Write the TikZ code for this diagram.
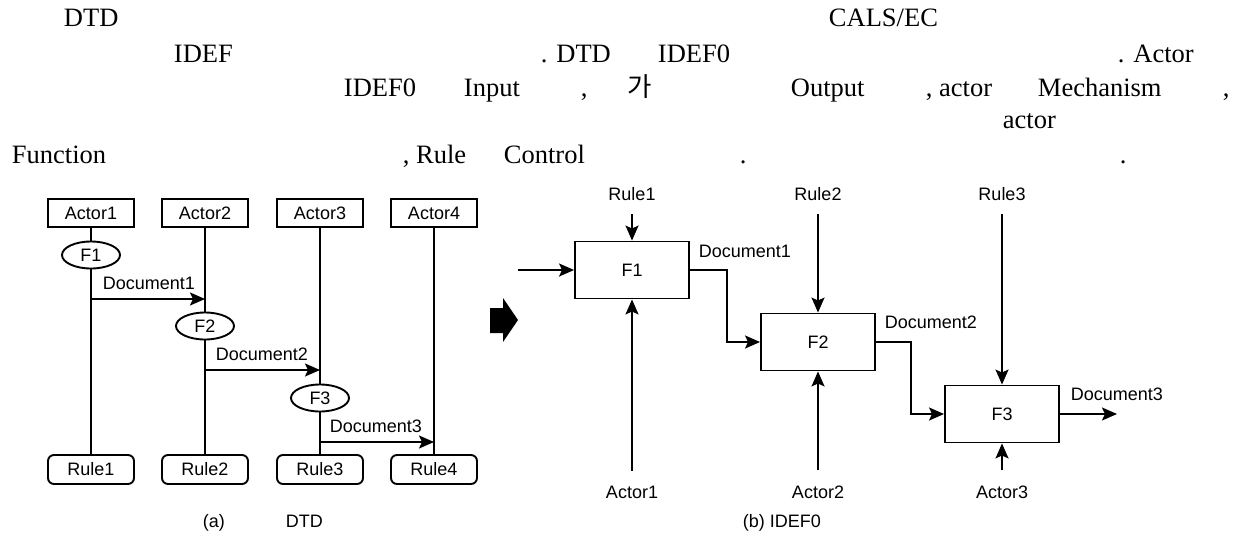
\documentclass[tikz,border=0pt]{standalone}
\usepackage{fontspec}
\setmainfont{Liberation Serif}
\newfontfamily\diagfont{Liberation Sans}
\newfontfamily\krfont{Noto Sans CJK KR}
\usetikzlibrary{shapes.geometric,arrows.meta}

\tikzset{
  texto/.style={font=\fontsize{26.5}{30}\selectfont, inner sep=0pt, anchor=base west},
  etiq/.style={font=\diagfont\fontsize{18}{21}\selectfont, inner sep=0pt},
  actor/.style={etiq, draw, line width=1.9pt, minimum width=86pt, minimum height=28pt},
  regla/.style={actor, rounded corners=6pt, minimum height=29pt},
  funcion/.style={etiq, draw, ellipse, fill=white, line width=1.9pt, minimum width=58pt, minimum height=27pt},
  caja/.style={etiq, draw, line width=1.9pt, minimum width=114pt, minimum height=57pt},
  flujo/.style={line width=1.9pt, -{Stealth[length=15pt,width=13pt,inset=3pt]}},
}

\begin{document}
\begin{tikzpicture}[x=1pt, y=-1pt, line width=1.9pt]
\useasboundingbox (0,0) rectangle (1234,538);
% Texto del parrafo
\node[texto] (t1) at (63,27) {DTD};
\node[texto] (t2) at (828,27) {CALS/EC};
\node[texto] (t3) at (173,62) {IDEF};
\node[texto] (t4) at (540,62) {. DTD};
\node[texto] (t5) at (657,62) {IDEF0};
\node[texto] (t6) at (1117,62) {. Actor};
\node[texto] (t7) at (343,96) {IDEF0};
\node[texto] (t8) at (463,96) {Input};
\node[texto] (t9) at (580,96) {,};
\node[texto] (t10) at (627,96) {\krfont 가};
\node[texto] (t11) at (790,96) {Output};
\node[texto] (t12) at (925,96) {, actor};
\node[texto] (t13) at (1037,96) {Mechanism};
\node[texto] (t14) at (1222,96) {,};
\node[texto] (t15) at (1002,128) {actor};
\node[texto] (t16) at (11,163) {Function};
\node[texto] (t17) at (402,163) {, Rule};
\node[texto] (t18) at (503,163) {Control};
\node[texto] (t19) at (739,163) {.};
\node[texto] (t20) at (1119,163) {.};

% (a) Diagrama DTD
\foreach \i/\x in {1/91,2/205,3/320,4/434}{
  \node[actor] (a\i) at (\x,213) {Actor\i};
  \node[regla] (r\i) at (\x,469.5) {Rule\i};
  \draw (a\i) -- (r\i);
}
\node[funcion] (f1) at (a1 |- 0,255) {F1};
\node[funcion] (f2) at (a2 |- 0,326) {F2};
\node[funcion] (f3) at (a3 |- 0,398) {F3};
% Documentos entre actores
\draw[flujo] (a1 |- 0,299) -- (a2 |- 0,299);
\draw[flujo] (a2 |- 0,370) -- (a3 |- 0,370);
\draw[flujo] (a3 |- 0,442) -- (a4 |- 0,442);
\node[etiq, anchor=base west] (da1) at (102,289) {Document1};
\node[etiq, anchor=base west] (da2) at (215,360) {Document2};
\node[etiq, anchor=base west] (da3) at (329,432) {Document3};
\node[etiq, anchor=base west] (capa) at (202,527) {(a)};
\node[etiq, anchor=base west] (capa2) at (285,527) {DTD};

% Flecha de bloque
\fill (490,308) -- (503,308) -- (503,298) -- (518,320) -- (503,342) -- (503,333) -- (490,333) -- cycle;

% (b) Diagrama IDEF0
\node[caja] (g1) at (632,270) {F1};
\node[caja] (g2) at (818,342) {F2};
\node[caja] (g3) at (1002,414) {F3};
% Control (Rule) y mecanismo (Actor)
\foreach \i/\x in {1/632,2/818,3/1002}{
  \node[etiq, anchor=base] (c\i) at (\x,200) {Rule\i};
  \node[etiq, anchor=base] (m\i) at (\x,498) {Actor\i};
  \draw[flujo] ([yshift=-13pt]c\i.south) -- (g\i.north);
  \draw[flujo] ([yshift=14pt]m\i.north) -- (g\i.south);
}
% Entradas y salidas
\coordinate (ent) at (518,270);
\coordinate (sal) at (1117,414);
\draw[flujo] (ent) -- (g1.west);
\draw[flujo] (g1.east) -- ++(37,0) |- (g2.west);
\draw[flujo] (g2.east) -- ++(35,0) |- (g3.west);
\draw[flujo] (g3.east) -- (sal);
\node[etiq, anchor=base west] (db1) at (698,257) {Document1};
\node[etiq, anchor=base west] (db2) at (884,328) {Document2};
\node[etiq, anchor=base west] (db3) at (1070,400) {Document3};
\node[etiq, anchor=base west] (capb) at (742,527) {(b) IDEF0};
\end{tikzpicture}
\end{document}
